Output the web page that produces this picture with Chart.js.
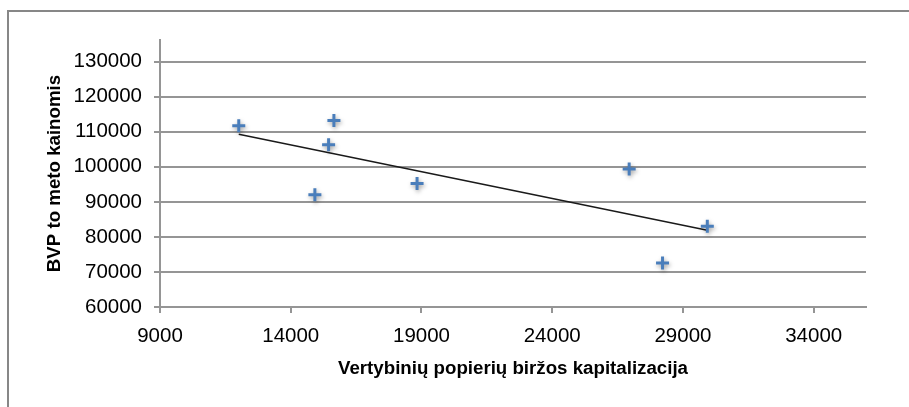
<!DOCTYPE html>
<html>
<head>
<meta charset="utf-8">
<script src="https://cdn.jsdelivr.net/npm/chart.js@4"></script>
<style>
  html, body { margin: 0; padding: 0; background: #fff; overflow: hidden; }
  #moldura {
    position: absolute; left: 7px; top: 10px;
    width: 1200px; height: 800px;
    border: 2px solid #878787;
  }
  #caixa { position: absolute; left: 0; top: 0; width: 909px; height: 407px; }
</style>
</head>
<body>
<div id="moldura"></div>
<div id="caixa"><canvas id="grafico" width="909" height="407"></canvas></div>
<script>
// dados
const kapitalizacija = [12012, 15651, 15448, 14923, 18831, 26943, 29931, 28219];
const bvp = [111700, 113230, 106320, 92070, 95270, 99350, 83030, 72550];
// linha de tendencia (pontas)
const trendX = [12012, 29931];
const trendY = [109300, 81900];
const ticksX = [9000, 14000, 19000, 24000, 29000, 34000];
const ticksY = [60000, 70000, 80000, 90000, 100000, 110000, 120000, 130000];
const tituloX = 'Vertybinių popierių biržos kapitalizacija';
const tituloY = 'BVP to meto kainomis';

const corGrade = '#959595';
const fonteTick = { family: '"Liberation Sans", Arial, sans-serif', size: 20.5 };
const fonteTitulo = { family: '"Liberation Sans", Arial, sans-serif', size: 18.7, weight: 'bold' };

function juntaPontos(xs, ys) {
  return xs.map((x, i) => ({ x: x, y: ys[i] }));
}

const sombra = {
  id: 'sombra',
  beforeDatasetDraw(chart, args) {
    if (args.index !== 0) return;
    const ctx = chart.ctx;
    ctx.save();
    ctx.shadowColor = 'rgba(0,0,0,0.35)';
    ctx.shadowBlur = 4;
    ctx.shadowOffsetX = 1;
    ctx.shadowOffsetY = 2;
  },
  afterDatasetDraw(chart, args) {
    if (args.index !== 0) return;
    chart.ctx.restore();
  }
};

const grafico = document.getElementById('grafico');
new Chart(grafico, {
  type: 'scatter',
  data: {
    datasets: [{
      label: 'BVP',
      data: juntaPontos(kapitalizacija, bvp),
      pointStyle: 'cross',
      pointRadius: 6.5,
      pointBorderWidth: 3,
      borderColor: '#4A7EBB',
      backgroundColor: '#4A7EBB'
    }, {
      type: 'line',
      label: 'Trend',
      data: juntaPontos(trendX, trendY),
      showLine: true,
      pointRadius: 0,
      borderColor: '#1a1a1a',
      borderWidth: 1.5,
      fill: false
    }]
  },
  options: {
    responsive: false,
    animation: false,
    layout: { padding: { left: 0, right: 43, top: 40, bottom: 0 } },
    plugins: {
      legend: { display: false },
      tooltip: { enabled: false }
    },
    scales: {
      x: {
        type: 'linear',
        min: 9000,
        max: 36000,
        afterBuildTicks: (eixo) => { eixo.ticks = ticksX.map(v => ({ value: v })); },
        afterFit: (eixo) => { eixo.height = 100; },
        grid: { drawOnChartArea: false, drawTicks: true, tickLength: 6, color: corGrade, lineWidth: 2 },
        border: { display: true, color: corGrade, width: 2 },
        ticks: { font: fonteTick, color: '#000', padding: 11, maxRotation: 0, autoSkip: false, callback: (v) => String(v) },
        title: { display: true, text: tituloX, font: fonteTitulo, color: '#000', padding: { top: 0, bottom: 27 } }
      },
      y: {
        type: 'linear',
        min: 60000,
        max: 136200,
        afterBuildTicks: (eixo) => { eixo.ticks = ticksY.map(v => ({ value: v })); },
        afterFit: (eixo) => { eixo.width = 160; },
        grid: { drawTicks: true, tickLength: 6, color: corGrade, lineWidth: 2 },
        border: { display: true, color: corGrade, width: 2 },
        ticks: { font: fonteTick, color: '#000', padding: 12, autoSkip: false, callback: (v) => String(v) },
        title: { display: true, text: tituloY, font: fonteTitulo, color: '#000', padding: { top: 44, bottom: 0 } }
      }
    }
  },
  plugins: [sombra]
});
</script>
</body>
</html>
